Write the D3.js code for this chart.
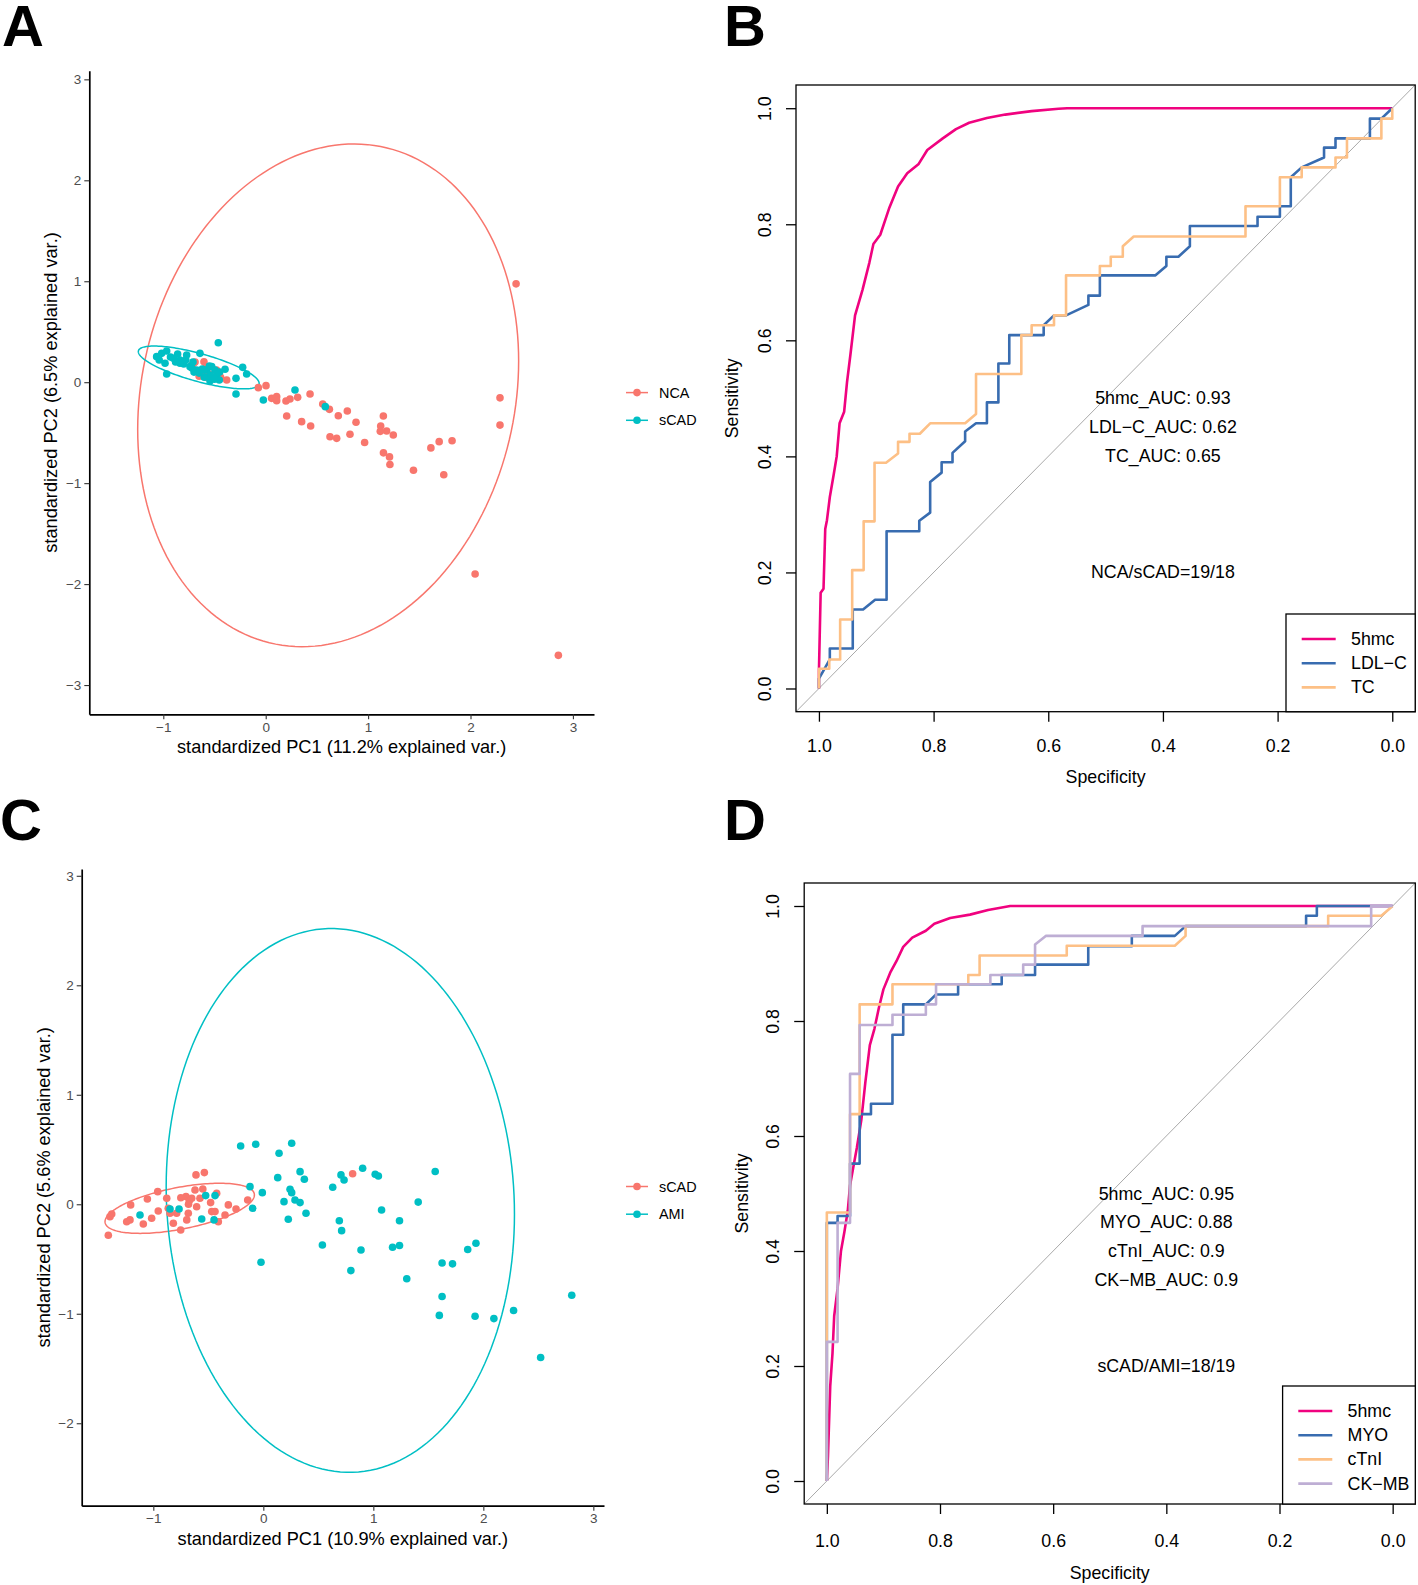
<!DOCTYPE html>
<html><head><meta charset="utf-8">
<script src="https://cdn.jsdelivr.net/npm/d3@7"></script>
<style>body{margin:0;background:#fff}svg{display:block}text{font-family:"Liberation Sans",Arial,Helvetica,sans-serif}</style>
</head><body><svg id="c" width="1418" height="1585"></svg>
<script>
// ---------------- DATA ----------------
const pcaTicks = [-3,-2,-1,0,1,2,3];
const groupsA = ["NCA","sCAD"];
const groupsC = ["sCAD","AMI"];
const colRed = "#F8766D", colTeal = "#00BFC4";

const pcaA_NCA = [[-0.70,0.193],[-0.603,0.203],[-0.583,0.048],[-0.472,0.104],[-0.44,0.048],[-0.381,0.022],
[-0.69,0.2],[-0.6,0.1],[-0.55,0.08],[-0.5,0.05],[-0.65,0.06],[-0.48,0.12],[-0.72,0.17],[-0.58,0.15],
[-0.072,-0.054],[0.003,-0.034],[0.058,-0.16],[0.107,-0.143],[0.107,-0.183],[0.198,-0.186],[0.237,-0.166],
[0.312,-0.15],[0.433,-0.117],[0.557,-0.216],[0.622,-0.269],[0.709,-0.332],[0.797,-0.285],[0.205,-0.335],
[0.351,-0.391],[0.439,-0.434],[0.882,-0.397],[1.149,-0.335],[1.123,-0.434],[1.181,-0.483],[1.246,-0.523],
[0.628,-0.54],[0.693,-0.556],[0.823,-0.516],[1.119,-0.487],[1.15,-0.70],[1.209,-0.74],[1.213,-0.815],
[0.966,-0.598],[1.443,-0.872],[1.613,-0.651],[1.694,-0.589],[1.82,-0.58],[1.739,-0.917],[2.288,-0.155],
[2.288,-0.425],[2.445,0.974],[2.045,-1.90],[2.858,-2.706]];
const pcaA_sCAD = [[-0.463,0.391],[-1.065,0.253],[-1.016,0.286],[-0.967,0.309],[-0.902,0.237],[-0.837,0.22],
[-0.772,0.27],[-0.642,0.286],[-0.983,0.187],[-0.967,0.081],[-0.837,0.187],[-0.739,0.154],[-0.674,0.121],
[-0.576,0.121],[-0.527,0.154],[-0.495,0.121],[-0.544,0.071],[-0.479,0.071],[-0.397,0.128],[-0.453,0.022],
[-0.544,0.012],[-0.29,0.038],[-0.225,0.147],[-0.186,0.081],[-0.29,-0.117],[-0.023,-0.176],[0.286,-0.077],
[0.582,-0.242],[-1.04,0.22],[-0.93,0.25],[-0.88,0.2],[-0.8,0.18],[-0.72,0.14],[-0.7,0.1],[-0.62,0.13],
[-0.6,0.05],[-0.55,0.16],[-0.65,0.09],[-0.78,0.22],[-0.86,0.28],[-0.71,0.2],[-0.45,0.1],[-0.5,0.03],[-0.6,0.12]];
// ellipse: [cx, cy, sxx, sxy, syy]
const ellA_NCA = [0.61,-0.13,3.46,0.63,6.2];
const ellA_sCAD = [-0.654,0.146,0.348,-0.0926,0.045];

const pcaC_sCAD = [[-1.409,-0.283],[-1.394,-0.113],[-1.378,-0.089],[-1.242,-0.159],[-1.212,-0.143],[-1.206,-0.006],
[-1.091,-0.18],[-1.054,0.048],[-1.015,-0.128],[-0.96,0.115],[-0.955,-0.061],[-0.878,0.055],[-0.864,-0.037],
[-0.848,-0.082],[-0.818,-0.174],[-0.788,-0.082],[-0.751,-0.235],[-0.696,-0.143],[-0.682,-0.082],[-0.703,0.07],
[-0.673,0.033],[-0.651,0.055],[-0.621,0.13],[-0.606,-0.022],[-0.612,0.268],[-0.536,0.289],[-0.576,0.055],
[-0.479,0.015],[-0.469,-0.067],[-0.439,-0.067],[-0.424,0.1],[-0.409,-0.159],[-0.348,-0.098],[-0.318,-0.006],
[-0.248,-0.043],[-0.142,0.039],[0.812,0.279],[-0.55,0.14],[-0.75,0.06],[-0.68,0.0]];
const pcaC_AMI = [[-1.121,-0.098],[-0.848,-0.043],[-0.766,-0.043],[-0.56,-0.134],[-0.524,0.079],[-0.439,0.079],
[-0.448,-0.143],[-0.206,0.532],[-0.069,0.548],[-0.121,0.161],[-0.097,-0.037],[-0.009,0.106],[-0.021,-0.53],
[0.143,0.466],[0.258,0.557],[0.131,0.243],[0.188,0.024],[0.227,-0.137],[0.243,0.137],[0.258,0.106],
[0.288,0.039],[0.334,0.015],[0.334,0.298],[0.373,0.228],[0.388,-0.082],[0.537,-0.372],[0.631,0.155],
[0.706,0.268],[0.734,0.222],[0.691,-0.15],[0.712,-0.241],[0.888,-0.417],[0.903,0.329],[1.017,0.274],
[1.046,0.258],[0.796,-0.606],[1.075,-0.053],[1.238,-0.151],[1.175,-0.393],[1.238,-0.377],[1.304,-0.68],
[1.408,0.02],[1.5625,0.299],[1.625,-0.536],[1.72,-0.544],[1.858,-0.413],[1.933,-0.356],[1.625,-0.843],
[1.6,-1.015],[1.925,-1.023],[2.096,-1.044],[2.275,-0.97],[2.804,-0.831],[2.521,-1.4]];
const ellC_sCAD = [-0.76,-0.037,0.461,0.0828,0.0524];
const ellC_AMI = [0.70,0.035,2.506,-0.2,6.166];

// ROC curves: [specificity, sensitivity]
const rocTicks = [1.0,0.8,0.6,0.4,0.2,0.0];
const rocB_5hmc = [[1,0],[1,0.03],[0.997,0.165],[0.992,0.172],[0.989,0.275],[0.986,0.29],[0.981,0.33],[0.974,0.37],
[0.969,0.40],[0.964,0.457],[0.956,0.477],[0.951,0.528],[0.945,0.576],[0.937,0.643],[0.924,0.687],[0.912,0.734],
[0.905,0.766],[0.893,0.782],[0.877,0.829],[0.862,0.865],[0.846,0.888],[0.826,0.904],[0.811,0.928],[0.784,0.948],
[0.761,0.964],[0.738,0.975],[0.707,0.983],[0.675,0.989],[0.629,0.995],[0.582,0.999],[0.567,1],[0,1]];
const rocB_LDLC = [[1,0],[1,0.017],[0.981,0.05],[0.981,0.069],[0.941,0.069],[0.941,0.136],[0.923,0.136],[0.902,0.153],
[0.882,0.153],[0.882,0.271],[0.825,0.271],[0.825,0.289],[0.806,0.303],[0.806,0.356],[0.786,0.372],[0.786,0.39],
[0.767,0.39],[0.767,0.406],[0.745,0.426],[0.745,0.443],[0.726,0.457],[0.707,0.457],[0.707,0.493],[0.687,0.493],
[0.687,0.56],[0.668,0.56],[0.668,0.609],[0.608,0.609],[0.608,0.626],[0.59,0.643],[0.569,0.643],[0.53,0.661],
[0.53,0.677],[0.51,0.677],[0.51,0.712],[0.413,0.712],[0.394,0.728],[0.394,0.744],[0.373,0.744],[0.353,0.762],
[0.353,0.797],[0.235,0.797],[0.235,0.813],[0.196,0.813],[0.196,0.831],[0.177,0.831],[0.177,0.881],[0.158,0.898],
[0.119,0.915],[0.119,0.932],[0.099,0.932],[0.099,0.948],[0.039,0.948],[0.039,0.982],[0.019,0.982],[0,1]];
const rocB_TC = [[1,0],[1,0.034],[0.982,0.034],[0.982,0.05],[0.963,0.05],[0.963,0.119],[0.942,0.119],[0.942,0.204],
[0.922,0.204],[0.922,0.288],[0.903,0.288],[0.903,0.389],[0.883,0.389],[0.862,0.405],[0.862,0.425],[0.842,0.425],
[0.842,0.439],[0.824,0.439],[0.806,0.457],[0.745,0.457],[0.726,0.473],[0.726,0.542],[0.647,0.542],[0.647,0.609],
[0.629,0.609],[0.629,0.626],[0.59,0.626],[0.59,0.643],[0.569,0.643],[0.569,0.712],[0.51,0.712],[0.51,0.728],
[0.491,0.728],[0.491,0.744],[0.47,0.744],[0.47,0.762],[0.451,0.779],[0.256,0.779],[0.256,0.831],[0.196,0.831],
[0.196,0.881],[0.158,0.881],[0.158,0.898],[0.099,0.898],[0.099,0.915],[0.079,0.915],[0.079,0.948],[0.019,0.948],
[0.019,0.982],[0,0.982],[0,1]];
const rocD_5hmc = [[1,0],[0.998,0.043],[0.994,0.165],[0.99,0.222],[0.987,0.287],[0.981,0.335],[0.975,0.40],[0.969,0.433],
[0.963,0.47],[0.959,0.514],[0.953,0.547],[0.947,0.579],[0.939,0.628],[0.932,0.693],[0.924,0.758],[0.916,0.786],
[0.908,0.823],[0.90,0.855],[0.888,0.884],[0.877,0.904],[0.865,0.929],[0.849,0.945],[0.825,0.957],[0.81,0.969],
[0.782,0.979],[0.747,0.985],[0.715,0.993],[0.676,1],[0,1]];
const rocD_MYO = [[1,0],[1,0.449],[0.981,0.449],[0.981,0.461],[0.959,0.461],[0.959,0.552],[0.942,0.552],[0.942,0.638],
[0.922,0.638],[0.922,0.656],[0.884,0.656],[0.884,0.776],[0.865,0.776],[0.865,0.829],[0.825,0.829],[0.807,0.846],
[0.768,0.846],[0.768,0.864],[0.711,0.864],[0.691,0.864],[0.691,0.88],[0.632,0.88],[0.632,0.898],[0.538,0.898],
[0.538,0.93],[0.461,0.93],[0.461,0.948],[0.385,0.948],[0.366,0.965],[0.153,0.965],[0.153,0.983],[0.134,0.983],
[0.134,1],[0,1]];
const rocD_cTnI = [[1,0],[1,0.467],[0.959,0.467],[0.959,0.638],[0.942,0.638],[0.942,0.829],[0.884,0.829],[0.884,0.864],
[0.75,0.864],[0.75,0.88],[0.73,0.88],[0.73,0.914],[0.576,0.914],[0.576,0.931],[0.385,0.931],[0.366,0.948],
[0.366,0.965],[0.114,0.965],[0.114,0.983],[0.02,0.983],[0,1]];
const rocD_CKMB = [[1,0],[1,0.242],[0.981,0.242],[0.981,0.449],[0.959,0.449],[0.959,0.708],[0.942,0.708],[0.942,0.793],
[0.884,0.793],[0.884,0.811],[0.825,0.811],[0.825,0.829],[0.807,0.829],[0.807,0.864],[0.711,0.864],[0.711,0.88],
[0.653,0.88],[0.653,0.898],[0.632,0.898],[0.632,0.933],[0.613,0.948],[0.442,0.948],[0.442,0.965],[0.038,0.965],
[0.038,1],[0,1]];
const colPink = "#F0027F", colBlue = "#386CB0", colOrange = "#FDC086", colPurple = "#BEAED4";
const namesB = ["5hmc","LDL\u2212C","TC"];
const namesD = ["5hmc","MYO","cTnI","CK\u2212MB"];
const aucB = ["5hmc_AUC: 0.93","LDL\u2212C_AUC: 0.62","TC_AUC: 0.65"];
const aucD = ["5hmc_AUC: 0.95","MYO_AUC: 0.88","cTnI_AUC: 0.9","CK\u2212MB_AUC: 0.9"];
const ratioB = "NCA/sCAD=19/18", ratioD = "sCAD/AMI=18/19";

// ---------------- DRAW ----------------
const svg = d3.select("#c");
svg.append("rect").attr("width",1418).attr("height",1585).attr("fill","#fff");
const FS_R = 17.8;

function panelLabel(t,x,y){
  svg.append("text").attr("x",x).attr("y",y).attr("font-size",58).attr("font-weight","bold").text(t);
}
panelLabel("A",2,46); panelLabel("B",724,46); panelLabel("C",0,840); panelLabel("D",724,840);

function ellipsePts(e){
  const [cx,cy,sxx,sxy,syy]=e; const a=Math.sqrt(sxx), b=sxy/a, c=Math.sqrt(syy-b*b);
  return d3.range(0,361,2).map(d=>{const t=d*Math.PI/180; return [cx+a*Math.cos(t), cy+b*Math.cos(t)+c*Math.sin(t)];});
}

function pcaPanel(o){
  const g = svg.append("g");
  const x = d3.scaleLinear().domain(o.xd).range([o.L,o.R]);
  const y = d3.scaleLinear().domain(o.yd).range([o.B,o.T]);
  const line = d3.line().x(d=>x(d[0])).y(d=>y(d[1]));
  o.ells.forEach((e,i)=>g.append("path").attr("d",line(ellipsePts(e))+"Z").attr("fill","none").attr("stroke",o.cols[i]).attr("stroke-width",1.5));
  o.sets.forEach((s,i)=>g.append("g").selectAll("circle").data(s).join("circle")
    .attr("cx",d=>x(d[0])).attr("cy",d=>y(d[1])).attr("r",3.8).attr("fill",o.cols[i]));
  const fmt = d3.format("d");
  const ax = g.append("g").attr("transform",`translate(0,${o.B})`)
    .call(d3.axisBottom(x).tickValues([-1,0,1,2,3]).tickFormat(fmt).tickSize(5).tickSizeOuter(0).tickPadding(3));
  const ay = g.append("g").attr("transform",`translate(${o.L},0)`)
    .call(d3.axisLeft(y).tickValues(pcaTicks.filter(v=>v>=o.yd[0]&&v<=o.yd[1])).tickFormat(fmt).tickSize(5).tickSizeOuter(0).tickPadding(3));
  [ax,ay].forEach(a=>{a.select(".domain").attr("stroke","#000").attr("stroke-width",1.7);
    a.selectAll(".tick line").attr("stroke","#333").attr("stroke-width",1.1);
    a.selectAll(".tick text").attr("fill","#4D4D4D").attr("font-size",13.5).attr("font-family","Liberation Sans, Arial, sans-serif");});
  g.append("text").attr("x",(o.L+o.R)/2).attr("y",o.B+33).attr("text-anchor","middle").attr("dominant-baseline","central")
    .attr("font-size",18.2).text(o.xt);
  g.append("text").attr("transform",`translate(${o.ytx},${(o.T+o.B)/2}) rotate(-90)`).attr("text-anchor","middle")
    .attr("dominant-baseline","central").attr("font-size",18.2).text(o.yt);
  o.names.forEach((n,i)=>{
    const yy=o.legY+i*27.7;
    g.append("line").attr("x1",626).attr("x2",648).attr("y1",yy).attr("y2",yy).attr("stroke",o.cols[i]).attr("stroke-width",1.5);
    g.append("circle").attr("cx",637).attr("cy",yy).attr("r",3.8).attr("fill",o.cols[i]);
    g.append("text").attr("x",659).attr("y",yy).attr("dominant-baseline","central").attr("font-size",14.4).text(n);
  });
}

pcaPanel({L:89.3,R:594,T:70.7,B:714.3,xd:[-1.7227,3.206],yd:[-3.2898,3.0857],
  sets:[pcaA_NCA,pcaA_sCAD],ells:[ellA_NCA,ellA_sCAD],cols:[colRed,colTeal],names:groupsA,legY:392.6,
  xt:"standardized PC1 (11.2% explained var.)",yt:"standardized PC2 (6.5% explained var.)",ytx:50.5});
pcaPanel({L:81.7,R:604,T:869,B:1505.7,xd:[-1.651,3.097],yd:[-2.753,3.062],
  sets:[pcaC_sCAD,pcaC_AMI],ells:[ellC_sCAD,ellC_AMI],cols:[colRed,colTeal],names:groupsC,legY:1186.5,
  xt:"standardized PC1 (10.9% explained var.)",yt:"standardized PC2 (5.6% explained var.)",ytx:43.5});

function rocPanel(o){
  const g = svg.append("g");
  const x = d3.scaleLinear().domain([1.04,-0.04]).range([o.L,o.R]);
  const y = d3.scaleLinear().domain([-0.04,1.04]).range([o.B,o.T]);
  const id = "clip"+o.id;
  svg.append("clipPath").attr("id",id).append("rect").attr("x",o.L).attr("y",o.T).attr("width",o.R-o.L).attr("height",o.B-o.T);
  const pg = g.append("g").attr("clip-path",`url(#${id})`);
  pg.append("line").attr("x1",x(1.04)).attr("y1",y(-0.04)).attr("x2",x(-0.04)).attr("y2",y(1.04)).attr("stroke","#A9A9A9").attr("stroke-width",1);
  const line = d3.line().x(d=>x(d[0])).y(d=>y(d[1]));
  o.curves.forEach((c,i)=>pg.append("path").attr("d",line(c)).attr("fill","none").attr("stroke",o.cols[i]).attr("stroke-width",2.6).attr("stroke-linejoin","round"));
  o.auc.forEach((t,i)=>g.append("text").attr("x",x(0.4)).attr("y",y(0.5-0.05*i)).attr("text-anchor","middle").attr("dominant-baseline","central").attr("font-size",FS_R).text(t));
  g.append("text").attr("x",x(0.4)).attr("y",y(0.2)).attr("text-anchor","middle").attr("dominant-baseline","central").attr("font-size",FS_R).text(o.ratio);
  g.append("rect").attr("x",o.L).attr("y",o.T).attr("width",o.R-o.L).attr("height",o.B-o.T).attr("fill","none").attr("stroke","#000").attr("stroke-width",1.3);
  const ax = g.append("g").attr("transform",`translate(0,${o.B})`).call(d3.axisBottom(x).tickValues(rocTicks).tickFormat(d3.format(".1f")).tickSize(10).tickSizeOuter(0));
  const ay = g.append("g").attr("transform",`translate(${o.L},0)`).call(d3.axisLeft(y).tickValues(rocTicks).tickFormat(d3.format(".1f")).tickSize(10).tickSizeOuter(0));
  [ax,ay].forEach(a=>{a.select(".domain").remove(); a.selectAll(".tick line").attr("stroke","#000").attr("stroke-width",1.3);
    a.selectAll(".tick text").attr("fill","#000").attr("font-size",FS_R).attr("font-family","Liberation Sans, Arial, sans-serif");});
  ax.selectAll(".tick text").attr("dy",null).attr("y",o.xlOff).attr("dominant-baseline","central");
  ay.selectAll(".tick text").attr("x",null).attr("dy",null).attr("text-anchor","middle").attr("dominant-baseline","central")
    .attr("transform","translate(-31,0) rotate(-90)");
  g.append("text").attr("x",(o.L+o.R)/2).attr("y",o.B+o.xtOff).attr("text-anchor","middle").attr("dominant-baseline","central").attr("font-size",FS_R).text("Specificity");
  g.append("text").attr("transform",`translate(${o.L-o.ytOff},${(o.T+o.B)/2}) rotate(-90)`).attr("text-anchor","middle").attr("dominant-baseline","central").attr("font-size",FS_R).text("Sensitivity");
  const lg = g.append("g");
  lg.append("rect").attr("x",o.legL).attr("y",o.legT).attr("width",o.R-o.legL).attr("height",o.B-o.legT).attr("fill","#fff").attr("stroke","#000").attr("stroke-width",1.3);
  o.names.forEach((n,i)=>{
    const yy=o.legT+25+i*24.2;
    lg.append("line").attr("x1",o.legL+15.7).attr("x2",o.legL+49.7).attr("y1",yy).attr("y2",yy).attr("stroke",o.cols[i]).attr("stroke-width",2.6);
    lg.append("text").attr("x",o.legL+65).attr("y",yy).attr("dominant-baseline","central").attr("font-size",FS_R).text(n);
  });
}

rocPanel({id:"B",L:796,R:1415.2,T:85,B:711.7,curves:[rocB_5hmc,rocB_LDLC,rocB_TC],cols:[colPink,colBlue,colOrange],
  names:namesB,auc:aucB,ratio:ratioB,legL:1286,legT:614,xlOff:34,xtOff:65,ytOff:64});
rocPanel({id:"D",L:804.2,R:1415.3,T:883,B:1504,curves:[rocD_5hmc,rocD_MYO,rocD_cTnI,rocD_CKMB],cols:[colPink,colBlue,colOrange,colPurple],
  names:namesD,auc:aucD,ratio:ratioD,legL:1282.6,legT:1386,xlOff:37,xtOff:69,ytOff:62});
</script></body></html>
